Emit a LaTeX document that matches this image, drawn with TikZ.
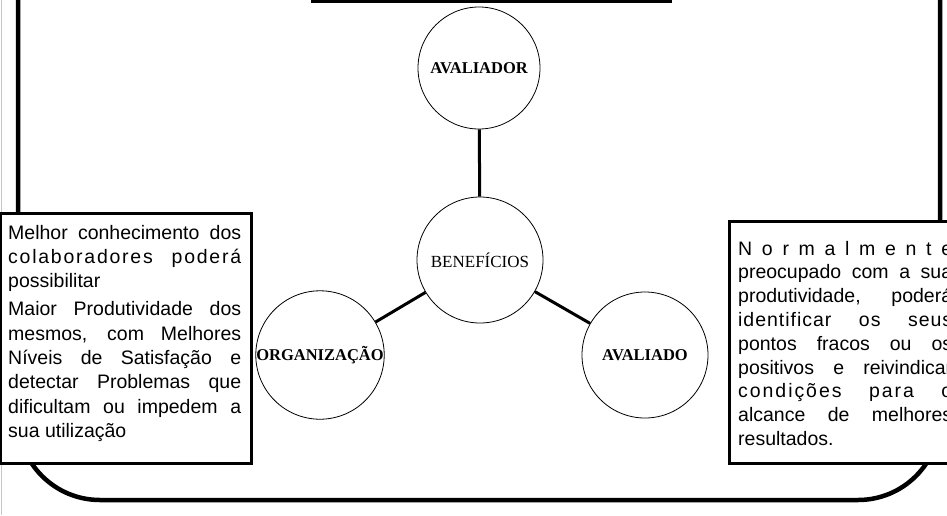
\documentclass[tikz,border=0pt]{standalone}
\usepackage{fontspec}
\setmainfont{Liberation Serif}
\newfontfamily\arialfont{Liberation Sans}
\usetikzlibrary{shapes}

\newcommand{\fullline}[1]{\makebox[\linewidth][s]{#1}}

\begin{document}
\begin{tikzpicture}[x=1pt,y=-1pt]
		\useasboundingbox (0,0) rectangle (947,515);
		\clip (0,0) rectangle (947,515);
		\begin{scope}
			[
				styleFrame/.style={line width=4.5pt, rounded corners=82pt},
				styleBox/.style={draw, fill=white, line width=2.5pt, inner sep=0pt},
				styleCircle/.style={
					draw, circle, fill=white, line width=0.8pt,
					inner sep=0pt, minimum size=126pt,
					font=\fontsize{16.5}{18}\selectfont\bfseries
					},
				styleText/.style={anchor=base west, inner sep=0pt,
					font=\arialfont\fontsize{19.5}{24.3}\selectfont},
			]
			\draw[styleFrame] (18,-150) rectangle (940,500);
			\draw[gray!45, line width=1pt] (1.5,0) -- (1.5,515);

			\node(titlebox)[styleBox, line width=3pt, anchor=south west, minimum width=358pt, minimum height=60pt] at (311,3) {};
			\node(orgbox)[styleBox, anchor=north west, minimum width=251pt, minimum height=250pt] at (-1,212) {};
			\node(avdbox)[styleBox, anchor=north west, minimum width=240pt, minimum height=242pt] at (728,220) {};

			\node(orgtext)[styleText] at (8,239) {\parbox[t]{233pt}{%
				\fullline{Melhor conhecimento dos}\\
				\fullline{\addfontfeature{LetterSpace=9}colaboradores poderá}\\
				possibilitar\\[4pt]
				\fullline{Maior Produtividade dos}\\
				\fullline{mesmos, com Melhores}\\
				\fullline{Níveis de Satisfação e}\\
				\fullline{detectar Problemas que}\\
				\fullline{dificultam ou impedem a}\\
				sua utilização}};
			\node(avdtext)[styleText, font=\arialfont\fontsize{19.5}{23.8}\selectfont] at (738,255) {\parbox[t]{214pt}{%
				\fullline{N\hfill o\hfill r\hfill m\hfill a\hfill l\hfill m\hfill e\hfill n\hfill t\hfill e}\\
				\fullline{preocupado com a sua}\\
				\fullline{produtividade, poderá}\\
				\fullline{\addfontfeature{LetterSpace=5}identificar os seus}\\
				\fullline{pontos fracos ou os}\\
				\fullline{positivos e reivindicar}\\
				\fullline{\addfontfeature{LetterSpace=10}condições para o}\\
				\fullline{alcance de melhores}\\
				resultados.}};

			\node(avaliador)[styleCircle, minimum size=122pt] at (479,68) {AVALIADOR};
			\node(beneficios)[styleCircle, font=\fontsize{17}{18}\selectfont] at (480,260) {BENEFÍCIOS};
			\node(organizacao)[styleCircle] at (320,355) {ORGANIZAÇÃO};
			\node(avaliado)[styleCircle] at (645,355) {AVALIADO};
		\end{scope}

		\begin{scope}
			[ styleLink/.style = {line width=3pt} ]
			\path
			(beneficios) edge[styleLink]		(avaliador)
			(beneficios) edge[styleLink]		(organizacao)
			(beneficios) edge[styleLink]		(avaliado);
		\end{scope}
	\end{tikzpicture}
\end{document}
